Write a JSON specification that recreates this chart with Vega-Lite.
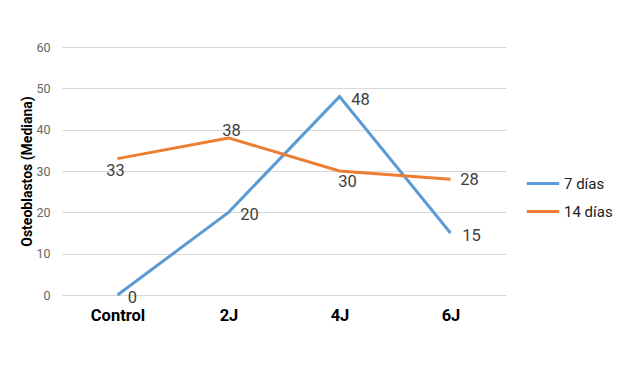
{
  "$schema": "https://vega.github.io/schema/vega-lite/v6.json",
  "width": 444,
  "height": 248,
  "autosize": {"type": "none"},
  "padding": {"left": 62, "top": 47, "right": 115, "bottom": 70},
  "background": "white",
  "config": {
    "font": "Roboto",
    "view": {"stroke": null},
    "axisY": {"titleFontSize": 14, "titleFontWeight": "bold", "titleColor": "#000000", "titlePadding": 1, "domain": false, "ticks": false, "labelFontSize": 12.5, "labelColor": "#666666", "labelPadding": 12, "gridColor": "#d9d9d9", "gridWidth": 1},
    "axisX": {"domain": false, "ticks": false, "labelAngle": 0, "labelFontSize": 16.5, "labelFontWeight": "bold", "labelColor": "#000000", "labelPadding": 12, "grid": false}
  },
  "data": {"values": [
    {"grupo": "Control", "serie": "7 días", "valor": 0},
    {"grupo": "2J", "serie": "7 días", "valor": 20},
    {"grupo": "4J", "serie": "7 días", "valor": 48},
    {"grupo": "6J", "serie": "7 días", "valor": 15},
    {"grupo": "Control", "serie": "14 días", "valor": 33},
    {"grupo": "2J", "serie": "14 días", "valor": 38},
    {"grupo": "4J", "serie": "14 días", "valor": 30},
    {"grupo": "6J", "serie": "14 días", "valor": 28}
  ]},
  "encoding": {
    "x": {"field": "grupo", "type": "nominal", "sort": ["Control", "2J", "4J", "6J"],
      "scale": {"type": "point", "padding": 0.5},
      "axis": {"title": null}},
    "y": {"field": "valor", "type": "quantitative", "scale": {"domain": [0, 60], "nice": false},
      "axis": {"title": "Osteoblastos (Mediana)", "values": [0, 10, 20, 30, 40, 50, 60]}}
  },
  "layer": [
    {
      "mark": {"type": "line", "strokeWidth": 3},
      "encoding": {
        "color": {"field": "serie", "type": "nominal", "sort": ["7 días", "14 días"],
          "scale": {"domain": ["7 días", "14 días"], "range": ["#5B9BD5", "#ED7D31"]},
          "legend": {"title": null, "orient": "none", "legendX": 463, "legendY": 129, "symbolType": "stroke", "symbolStrokeWidth": 3, "symbolSize": 1050, "clipHeight": 15, "labelFontSize": 15, "labelColor": "#222222", "rowPadding": 12, "labelOffset": 3}}
      }
    },
    {
      "transform": [{"filter": "datum.serie == '7 días' && datum.grupo != 'Control'"}],
      "mark": {"type": "text", "dx": 21, "dy": 3, "fontSize": 16.5, "color": "#404040"},
      "encoding": {"text": {"field": "valor"}}
    },
    {
      "transform": [{"filter": "datum.serie == '7 días' && datum.grupo == 'Control'"}],
      "mark": {"type": "text", "dx": 15, "dy": 3, "fontSize": 16.5, "color": "#404040"},
      "encoding": {"text": {"field": "valor"}}
    },
    {
      "transform": [{"filter": "datum.serie == '14 días' && datum.grupo == 'Control'"}],
      "mark": {"type": "text", "dx": -2, "dy": 12, "fontSize": 16.5, "color": "#404040"},
      "encoding": {"text": {"field": "valor"}}
    },
    {
      "transform": [{"filter": "datum.serie == '14 días' && datum.grupo == '4J'"}],
      "mark": {"type": "text", "dx": 8, "dy": 11, "fontSize": 16.5, "color": "#404040"},
      "encoding": {"text": {"field": "valor"}}
    },
    {
      "transform": [{"filter": "datum.serie == '14 días' && datum.grupo == '2J'"}],
      "mark": {"type": "text", "dx": 3, "dy": -7, "fontSize": 16.5, "color": "#404040"},
      "encoding": {"text": {"field": "valor"}}
    },
    {
      "transform": [{"filter": "datum.serie == '14 días' && datum.grupo == '6J'"}],
      "mark": {"type": "text", "dx": 19, "dy": 1, "fontSize": 16.5, "color": "#404040"},
      "encoding": {"text": {"field": "valor"}}
    }
  ]
}
